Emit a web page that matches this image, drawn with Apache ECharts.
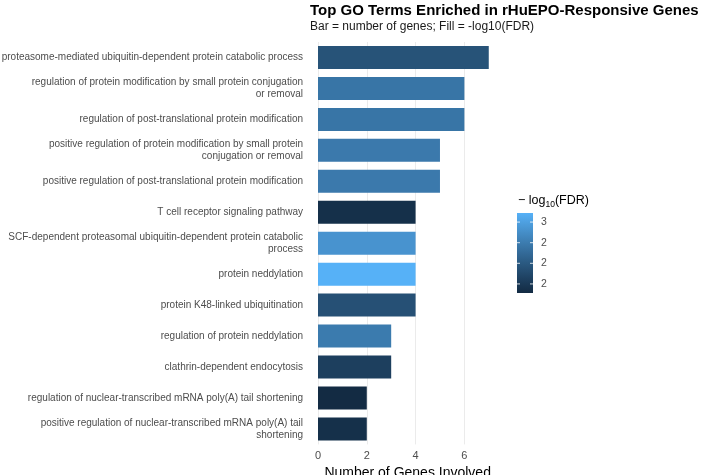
<!DOCTYPE html>
<html>
<head>
<meta charset="utf-8">
<script src="https://cdn.jsdelivr.net/npm/echarts@6/dist/echarts.min.js"></script>
<style>
  html, body { margin: 0; padding: 0; background: #fff; }
  #chart { width: 709px; height: 475px; }
</style>
</head>
<body>
<div id="chart"></div>
<script>
// GO terms, top to bottom
const terms = [
  'proteasome-mediated ubiquitin-dependent protein catabolic process',
  'regulation of protein modification by small protein conjugation\nor removal',
  'regulation of post-translational protein modification',
  'positive regulation of protein modification by small protein\nconjugation or removal',
  'positive regulation of post-translational protein modification',
  'T cell receptor signaling pathway',
  'SCF-dependent proteasomal ubiquitin-dependent protein catabolic\nprocess',
  'protein neddylation',
  'protein K48-linked ubiquitination',
  'regulation of protein neddylation',
  'clathrin-dependent endocytosis',
  'regulation of nuclear-transcribed mRNA poly(A) tail shortening',
  'positive regulation of nuclear-transcribed mRNA poly(A) tail\nshortening'
];
const geneCounts = [7, 6, 6, 5, 5, 4, 4, 4, 4, 3, 3, 2, 2];
const negLogFdr = [2.20, 2.45, 2.45, 2.48, 2.48, 1.93, 2.66, 2.86, 2.18, 2.49, 2.05, 1.89, 1.93];

const xTicks = [0, 2, 4, 6];
const fillTicks = [2.0, 2.25, 2.5, 2.75];
const fillMin = 1.89, fillMax = 2.86;

// ggplot-ish gradient, interpolated in Lab
const lowCol = '#132B43', highCol = '#56B1F7';
function lin(c) { c /= 255; return c <= 0.04045 ? c / 12.92 : Math.pow((c + 0.055) / 1.055, 2.4); }
function unlin(c) {
  const v = c <= 0.0031308 ? 12.92 * c : 1.055 * Math.pow(c, 1 / 2.4) - 0.055;
  return Math.round(Math.max(0, Math.min(1, v)) * 255);
}
function toLab(hex) {
  const r = lin(parseInt(hex.substr(1, 2), 16)), g = lin(parseInt(hex.substr(3, 2), 16)), b = lin(parseInt(hex.substr(5, 2), 16));
  const X = (0.4124 * r + 0.3576 * g + 0.1805 * b) / 0.95047;
  const Y = 0.2126 * r + 0.7152 * g + 0.0722 * b;
  const Z = (0.0193 * r + 0.1192 * g + 0.9505 * b) / 1.08883;
  const f = t => t > 0.008856 ? Math.cbrt(t) : 7.787 * t + 16 / 116;
  const fx = f(X), fy = f(Y), fz = f(Z);
  return [116 * fy - 16, 500 * (fx - fy), 200 * (fy - fz)];
}
function fromLab(L, a, b) {
  const fy = (L + 16) / 116, fx = fy + a / 500, fz = fy - b / 200;
  const g = t => t * t * t > 0.008856 ? t * t * t : (t - 16 / 116) / 7.787;
  const X = g(fx) * 0.95047, Y = g(fy), Z = g(fz) * 1.08883;
  const r = 3.2406 * X - 1.5372 * Y - 0.4986 * Z;
  const gg = -0.9689 * X + 1.8758 * Y + 0.0415 * Z;
  const bb = 0.0557 * X - 0.2040 * Y + 1.0570 * Z;
  return 'rgb(' + unlin(r) + ',' + unlin(gg) + ',' + unlin(bb) + ')';
}
const labLo = toLab(lowCol), labHi = toLab(highCol);
const stops = [];
for (let i = 0; i <= 10; i++) {
  const t = i / 10;
  stops.push(fromLab(labLo[0] + (labHi[0] - labLo[0]) * t, labLo[1] + (labHi[1] - labLo[1]) * t, labLo[2] + (labHi[2] - labLo[2]) * t));
}

const source = terms.map((t, i) => [t, geneCounts[i], negLogFdr[i]]);

// colour bar legend geometry
const cbX = 517, cbY = 213, cbW = 16, cbH = 80;
const legendEls = [
  {
    type: 'rect', shape: { x: cbX, y: cbY, width: cbW, height: cbH },
    style: {
      fill: {
        type: 'linear', x: 0, y: 1, x2: 0, y2: 0,
        colorStops: stops.map((c, i) => ({ offset: i / (stops.length - 1), color: c }))
      }
    }
  },
  {
    type: 'text', x: 518, y: 193,
    style: {
      text: '{a|\u2212 log}{s|10}{a|(FDR)}',
      rich: {
        a: { fontSize: 12.5, fontFamily: 'Liberation Sans', fill: '#000' },
        s: { fontSize: 8.5, fontFamily: 'Liberation Sans', fill: '#000', padding: [7, 0, 0, 0] }
      }
    }
  }
];
fillTicks.forEach(v => {
  const y = cbY + cbH - (v - fillMin) / (fillMax - fillMin) * cbH;
  legendEls.push({ type: 'line', shape: { x1: cbX, y1: y, x2: cbX + 3, y2: y }, style: { stroke: '#fff', lineWidth: 0.8 } });
  legendEls.push({ type: 'line', shape: { x1: cbX + cbW - 3, y1: y, x2: cbX + cbW, y2: y }, style: { stroke: '#fff', lineWidth: 0.8 } });
  legendEls.push({
    type: 'text', x: 541, y: y,
    style: { text: String(Math.round(v) === v + 0.5 ? v - 0.5 : Math.round(v)), fontSize: 10.5, fontFamily: 'Liberation Sans', fill: '#4D4D4D', verticalAlign: 'middle' }
  });
});

const chart = echarts.init(document.getElementById('chart'));
chart.setOption({
  backgroundColor: '#fff',
  animation: false,
  textStyle: { fontFamily: 'Liberation Sans' },
  title: {
    text: 'Top GO Terms Enriched in rHuEPO-Responsive Genes',
    subtext: 'Bar = number of genes; Fill = -log10(FDR)',
    left: 305, top: -2,
    itemGap: 3,
    textStyle: { fontSize: 15, fontWeight: 'bold', color: '#000', fontFamily: 'Liberation Sans' },
    subtextStyle: { fontSize: 12, color: '#1a1a1a', fontFamily: 'Liberation Sans' }
  },
  grid: { left: 318, top: 42, width: 179.3, height: 402.4, outerBoundsMode: 'none' },
  dataset: { source: source },
  visualMap: {
    type: 'continuous', show: false, dimension: 2,
    min: fillMin, max: fillMax,
    inRange: { color: stops }
  },
  xAxis: {
    type: 'value', min: 0, max: 7.35, interval: 2,
    axisLine: { show: false }, axisTick: { show: false },
    splitLine: { show: false },
    axisLabel: { color: '#4D4D4D', fontSize: 11, margin: 6, showMaxLabel: false },
    name: 'Number of Genes Involved', nameLocation: 'middle', nameGap: 18,
    nameTextStyle: { fontSize: 14, color: '#000' }
  },
  yAxis: {
    type: 'category', inverse: true,
    axisLine: { show: false }, axisTick: { show: false },
    axisLabel: { color: '#4D4D4D', fontSize: 10, lineHeight: 12, margin: 15, align: 'right' }
  },
  series: [{
    type: 'bar',
    encode: { x: 1, y: 0 },
    barWidth: 23,
    z: 2,
    markLine: {
      silent: true, symbol: 'none', z: 1,
      label: { show: false },
      lineStyle: { color: '#EBEBEB', type: 'solid', width: 1 },
      data: xTicks.map(v => ({ xAxis: v }))
    }
  }],
  graphic: legendEls
});
</script>
</body>
</html>
